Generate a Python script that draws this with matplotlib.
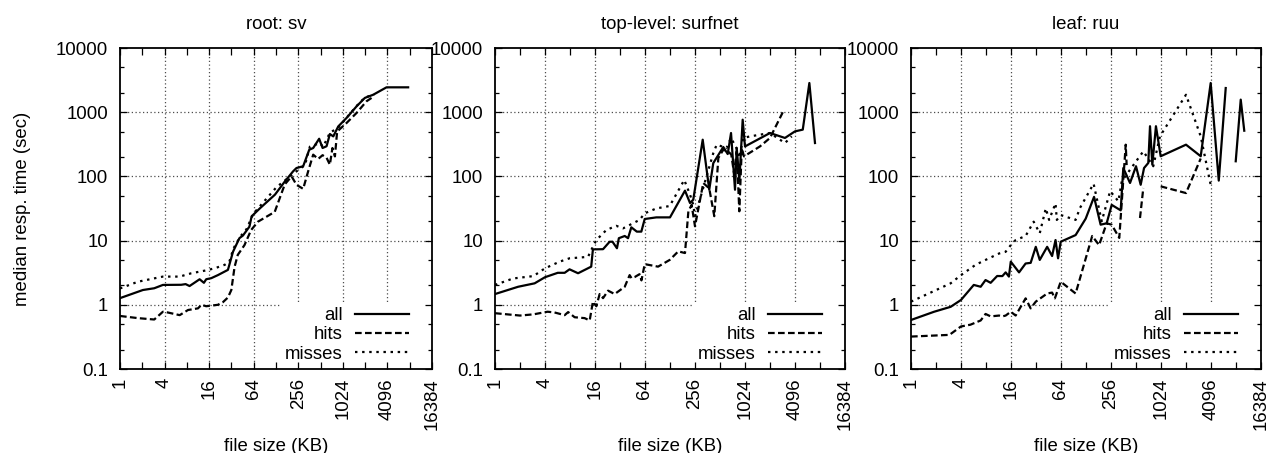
import numpy as np
import matplotlib
matplotlib.use('Agg')
import matplotlib.pyplot as plt
from matplotlib.patches import Rectangle
from matplotlib.ticker import FixedLocator, FuncFormatter, LogLocator, NullFormatter, NullLocator

plt.rcParams['font.family'] = ['Liberation Sans', 'DejaVu Sans']
FS = 13.4
nan = np.nan

# root: sv
sv_all_x = [1, 2.04, 2.9, 3.8, 6.7, 7.7, 8.7, 11.9, 13.6, 14.6, 17.1, 21, 28.7, 30, 33.6, 41, 45.8, 56, 60,
            78, 124, 168, 218, 242, 298, 360, 407, 490, 545, 617, 684, 760, 887, 1150, 1570, 2030, 2630, 3980, 7800]
sv_all_y = [1.27, 1.70, 1.81, 2.04, 2.05, 2.1, 1.96, 2.5, 2.2, 2.5, 2.6, 2.9, 3.5, 4.2, 6.7, 10.9, 12.0, 16.5, 23.9,
            32, 52, 83, 120, 135, 144, 260, 277, 386, 277, 295, 457, 420, 600, 815, 1235, 1670, 1870, 2440, 2440]
sv_hits_x = [1, 1.75, 2.9, 3.8, 4.4, 6.4, 8.3, 11.3, 12.6, 14.6, 17, 21, 24.6, 28.7, 31.9, 35.3, 39, 48, 59, 73,
             123, 168, 208, 242, 298, 348, 407, 475, 545, 617, 684, 740, 800, 857, 1150, 1570, 2140, 2500]
sv_hits_y = [0.67, 0.62, 0.59, 0.78, 0.76, 0.69, 0.83, 0.88, 1.0, 0.95, 0.97, 1.0, 1.1, 1.3, 1.7, 3.9, 6.0, 8.5, 14.6, 19.7,
             28, 75, 100, 74, 64, 120, 218, 187, 214, 195, 152, 277, 205, 500, 680, 975, 1480, 1670]
sv_miss_x = [1, 1.75, 3.8, 6.4, 9.2, 13.9, 19, 26, 30, 34, 42, 51, 63, 130, 247, 315, 367, 500, 555, 685, 885,
             1150, 1570, 2030, 2700]
sv_miss_y = [1.8, 2.29, 2.75, 2.75, 3.1, 3.4, 3.7, 4.2, 4.7, 7.5, 11.5, 15, 26, 68, 122, 150, 290, 330, 290, 480, 570,
             820, 1250, 1700, 1870]

# top-level: surfnet
sn_all_x = [1, 1.9, 3.0, 4.0, 5.7, 6.9, 7.9, 10, 14.4, 15.1, 20, 24, 26, 29.4, 31, 36.5, 40, 43.8, 51, 57.8, 63.5,
            87.6, 128, 194, 223, 244, 317, 380, 425, 561, 634, 695, 776, 814, 875, 960, 1024, 2048, 3100, 4096,
            5080, 6100, 7130]
sn_all_y = [1.47, 1.91, 2.16, 2.69, 3.15, 3.15, 3.57, 3.1, 3.93, 7.3, 7.35, 9.6, 9.6, 7.6, 10.9, 11.8, 10.9, 16.1, 13.8,
            13.8, 21.7, 23, 23, 60, 38.5, 43.4, 373, 62, 161, 287, 223, 474, 62, 277, 84, 764, 293, 474, 397, 503,
            535, 2850, 331]
sn_hits_x = [1, 2, 2.9, 4.3, 5.2, 6.9, 7.6, 9.1, 12, 13.8, 15.1, 16.6, 18.2, 20, 23, 27.6, 36.5, 41.8, 44, 48, 55,
             58, 63.5, 92, 127, 161, 194, 213, 233, 256, 322, 380, 437, 489, 561, 645, 700, 755, 814, 875, 936, 995,
             1550, 2048, 3020]
sn_hits_y = [0.74, 0.68, 0.71, 0.78, 0.76, 0.69, 0.77, 0.64, 0.62, 0.57, 1.12, 0.95, 1.47, 1.27, 1.66, 1.47, 1.91, 2.9,
             2.6, 2.7, 3.0, 2.4, 4.3, 3.93, 5.0, 6.8, 6.4, 28.6, 36, 16.7, 79, 65, 24, 194, 260, 245, 218, 113, 245,
             28.6, 277, 205, 293, 397, 1090]
sn_miss_x = [1, 1.65, 2.9, 4, 6, 7.9, 11.5, 13.2, 14.4, 16.6, 21.9, 28.8, 34.8, 41.8, 55, 63.5, 87.6, 127, 190, 223,
             244, 256, 425, 467, 614, 695, 808, 875, 975, 1176, 2048, 3100, 3740]
sn_miss_y = [2.04, 2.57, 2.8, 3.7, 4.7, 5.3, 5.5, 5.6, 7.1, 10.2, 14.6, 17, 15.5, 17.5, 21, 26.6, 31.7, 34.6, 88, 52,
             36, 24, 230, 312, 277, 397, 277, 194, 397, 420, 474, 331, 420]

# leaf: ruu
ru_all_x = [1, 1.9, 3.0, 4.0, 5.7, 6.9, 7.9, 9.1, 10.9, 12.6, 13.8, 15.1, 15.9, 20, 24, 27.6, 31.8, 35.5, 43.6, 50,
            55, 59, 63.5, 96, 127, 160, 192, 227, 261, 335, 360, 434, 512, 583, 640, 720, 755, 805, 890, 1015,
            2048, 3080, 4060, 5080, 6160, 7000, 8130, 9340, 10300]
ru_all_y = [0.58, 0.78, 0.93, 1.19, 2.04, 1.91, 2.43, 2.2, 2.81, 2.8, 3.2, 2.75, 4.7, 3.2, 4.4, 4.5, 8.0, 5.0, 8.0, 5.75,
            10.2, 5.3, 9.6, 12.2, 22, 48, 17.7, 18.6, 36, 29.6, 135, 79, 144, 74, 135, 162, 605, 152, 605, 206,
            312, 206, 2850, 86, 2380, nan, 172, 1570, 515]
ru_hits_x = [1, 2.9, 4, 5.2, 6.9, 7.9, 9.1, 11.5, 12.6, 13.8, 15.9, 18.2, 24, 27.6, 31.8, 43.6, 50, 54, 63.5, 96,
             152, 184, 227, 261, 322, 385, 395, 480, 572, 627, 800, 1015, 2048, 3080]
ru_hits_y = [0.32, 0.34, 0.46, 0.49, 0.57, 0.72, 0.66, 0.68, 0.66, 0.68, 0.78, 0.68, 1.26, 0.88, 1.12, 1.5, 1.55, 1.26,
             2.29, 1.5, 11.8, 8.5, 18.6, 17.7, 11, 312, 150, nan, 22.5, 66, nan, 70, 55, 190]
ru_miss_x = [1, 1.65, 3.0, 4, 6, 7.9, 11.5, 13.8, 15.9, 18.2, 24, 30, 35.5, 42, 46, 55, 57, 63.5, 96, 108, 158, 198,
             250, 314, 345, 627, 826, 995, 2048, 3080, 4060]
ru_miss_y = [1.12, 1.51, 2.16, 2.9, 4.2, 5.0, 6.3, 6.7, 8.5, 10.2, 11.8, 19.7, 13, 31.8, 21, 38, 21, 25, 21, 32, 77, 20,
             59, 41, 84, 246, 144, 421, 1870, 421, 74]

titles = ['root: sv', 'top-level: surfnet', 'leaf: ruu']
labels = ['all', 'hits', 'misses']
x_ticks = [2 ** k for k in range(15)]
y_ticks = [0.1, 1, 10, 100, 1000, 10000]

W, H = 1268, 453
# axes boxes in pixels: left, right, top, bottom
boxes = [(120, 432, 48, 369), (495, 845, 48, 369), (911, 1261, 48, 369)]


def xlab(v, pos):
    k = int(round(np.log2(v)))
    return str(2 ** k) if k % 2 == 0 else ''


def panel(ax, title, series, first):
    l, r, t, b = boxes[titles.index(title)]
    wpx = r - l
    ax.set_xscale('log', base=2)
    ax.set_yscale('log')
    ax.set_xlim(1, 16384)
    ax.set_ylim(0.1, 10000)

    # dotted grid, hidden behind key area
    for v in x_ticks[2:-1:2]:
        ax.axvline(v, color='0.3', lw=0.9, ls=(0, (1, 2)), zorder=1)
    for v in y_ticks[1:-1]:
        ax.axhline(v, color='0.3', lw=0.9, ls=(0, (1, 2)), zorder=1)
    ax.add_patch(Rectangle((1 - 152 / wpx, 0), 152 / wpx, 0.209, transform=ax.transAxes,
                           facecolor='white', edgecolor='none', zorder=1.5))

    styles = [dict(ls='-'), dict(dashes=(3.0, 1.5)), dict(dashes=(1.1, 2.1))]
    for (xs, ys), lab, st in zip(series, labels, styles):
        ax.plot(xs, ys, color='black', lw=1.6, label=lab, zorder=2, **st)

    ax.xaxis.set_major_locator(FixedLocator(x_ticks))
    ax.xaxis.set_major_formatter(FuncFormatter(xlab))
    ax.xaxis.set_minor_locator(NullLocator())
    ax.yaxis.set_major_locator(FixedLocator(y_ticks))
    ax.yaxis.set_major_formatter(FuncFormatter(lambda v, p: '%g' % v))
    ax.yaxis.set_minor_locator(LogLocator(base=10, subs=(2, 5)))
    ax.yaxis.set_minor_formatter(NullFormatter())
    ax.tick_params(which='both', direction='in', top=True, right=True, width=0.9, labelsize=FS)
    ax.tick_params(which='major', length=5)
    ax.tick_params(which='minor', length=3)
    ax.tick_params(axis='x', labelrotation=90, pad=6.5)
    ax.tick_params(axis='y', pad=8.6)
    for s in ax.spines.values():
        s.set_linewidth(1.3)
    ax.set_axisbelow(False)

    ax.set_title(title, fontsize=FS, pad=14)
    ax.set_xlabel('file size (KB)', fontsize=FS, labelpad=6)
    if first:
        ax.set_ylabel('median resp. time (sec)', fontsize=FS)
        ax.yaxis.set_label_coords((31 - l) / wpx, 0.5)

    ax.legend(loc='lower right', bbox_to_anchor=(1 - 23 / wpx, 0.02), frameon=False, markerfirst=False,
              handlelength=2.9, handletextpad=0.65, labelspacing=0.12, borderpad=0, borderaxespad=0,
              fontsize=FS)


fig = plt.figure(figsize=(W / 100, H / 100), dpi=100)
data = [
    [(sv_all_x, sv_all_y), (sv_hits_x, sv_hits_y), (sv_miss_x, sv_miss_y)],
    [(sn_all_x, sn_all_y), (sn_hits_x, sn_hits_y), (sn_miss_x, sn_miss_y)],
    [(ru_all_x, ru_all_y), (ru_hits_x, ru_hits_y), (ru_miss_x, ru_miss_y)],
]
for i, title in enumerate(titles):
    l, r, t, b = boxes[i]
    ax = fig.add_axes([l / W, (H - b) / H, (r - l) / W, (b - t) / H])
    panel(ax, title, data[i], i == 0)

fig.savefig('out.png', dpi=100)
